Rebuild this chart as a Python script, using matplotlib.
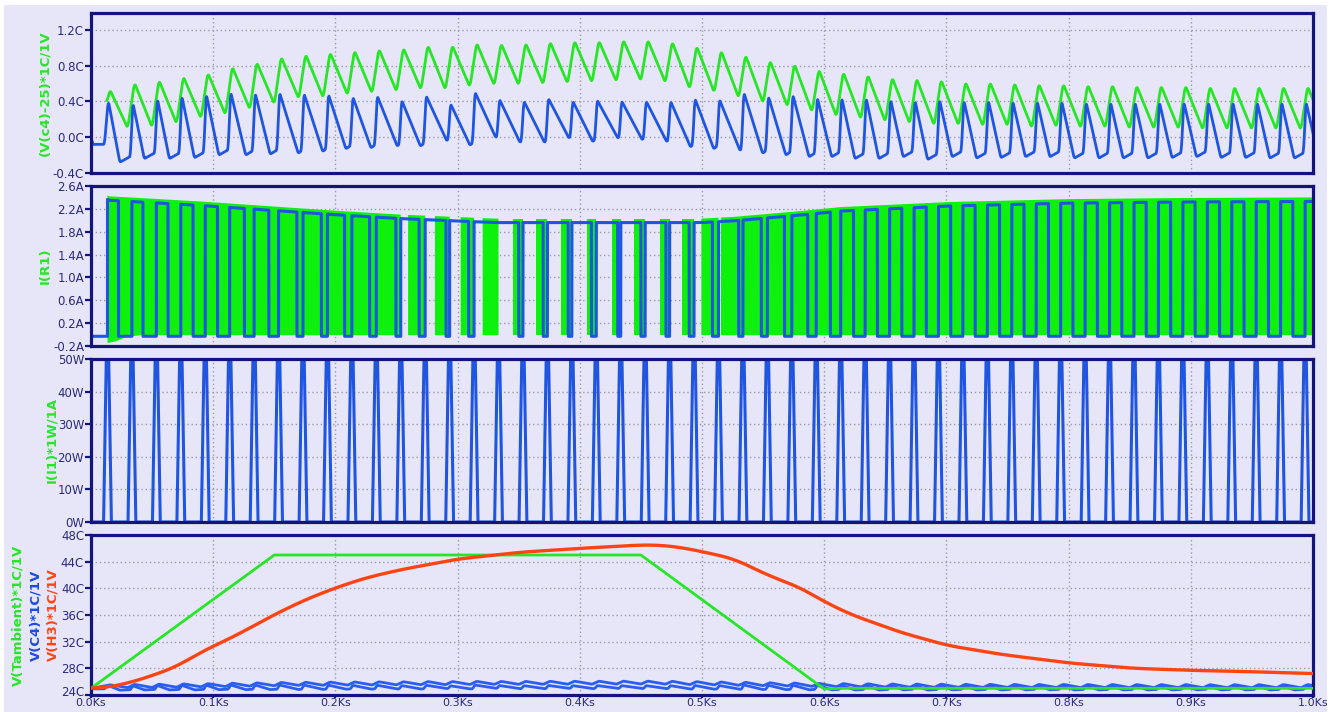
import numpy as np
import matplotlib.pyplot as plt
import matplotlib.transforms as mtransforms
from matplotlib.patches import Rectangle

# ---- values read off the waveform viewer ----
# heater pulse centres (s), one per 20 s control cycle
pulse_t = [13.5, 33.5, 53.5, 73.5, 93.5, 113.5, 133.5, 153.5, 173.5, 193.5,
           213.5, 233.5, 253.5, 273.5, 293.5, 313.5, 333.5, 353.5, 373.5, 393.5,
           413.5, 433.5, 453.5, 473.5, 493.5, 513.5, 533.5, 553.5, 573.5, 593.5,
           613.5, 633.5, 653.5, 673.5, 693.5, 713.5, 733.5, 753.5, 773.5, 793.5,
           813.5, 833.5, 853.5, 873.5, 893.5, 913.5, 933.5, 953.5, 973.5, 993.5]

# how long the blue drive stays high after each pulse (s)
on_time = [9, 9, 9.5, 10, 10,
           12, 12, 15, 15, 14, 14.5, 16, 15, 17, 15.5, 20, 16.5, 16.5, 17, 16,
           17.5, 16.5, 17, 16, 15, 16.5, 15, 14, 13, 11.5, 10.5,
           10, 10, 10, 10, 10, 10, 10, 10, 10, 10, 10, 10, 10, 10, 10, 10, 10, 10, 10]

# how long the green PWM runs before each pulse (s)
green_on = [0, 20, 20, 20, 20, 20, 20, 20, 20, 20, 20, 20, 20,
            14, 12, 11, 13, 8, 9, 9, 8, 7, 9, 8, 10, 14, 18,
            20, 20, 20, 20, 20, 20, 20, 20, 20, 20, 20, 20, 20, 20, 20, 20,
            20, 20, 20, 20, 20, 20, 20]

# pane 1: per-cycle peaks and troughs
blue_peak = [0.42, 0.40, 0.45, 0.48, 0.50, 0.52, 0.51, 0.51, 0.50, 0.49, 0.46, 0.47,
             0.42, 0.47, 0.38, 0.51, 0.43, 0.41, 0.44, 0.41, 0.42, 0.41, 0.41, 0.41,
             0.44, 0.43, 0.51, 0.47, 0.49, 0.46, 0.46, 0.46, 0.44,
             0.43, 0.44, 0.43, 0.43, 0.42, 0.42, 0.42, 0.41, 0.41, 0.41, 0.41, 0.41,
             0.41, 0.41, 0.41, 0.41, 0.41]
blue_trough = [-0.28, -0.24, -0.24, -0.23, -0.20, -0.20, -0.19, -0.18, -0.16, -0.13, -0.12,
               -0.10, -0.10, -0.04, -0.09, 0.00, -0.06, -0.06, -0.01, -0.05, -0.01, -0.03,
               -0.05, -0.11, -0.13, -0.15, -0.18, -0.20, -0.22, -0.22, -0.24, -0.24, -0.22,
               -0.25, -0.22, -0.235, -0.23, -0.22, -0.22, -0.235, -0.235, -0.235, -0.235,
               -0.23, -0.22, -0.23, -0.23, -0.235, -0.235, -0.23]
green_peak = [0.53, 0.61, 0.64, 0.68, 0.72, 0.79, 0.84, 0.90, 0.93, 0.95, 0.97, 0.99,
              1.00, 1.03, 1.03, 1.055, 1.05, 1.055, 1.07, 1.08, 1.08, 1.09, 1.09, 1.07,
              1.02, 0.97, 0.92, 0.86, 0.82, 0.76, 0.73, 0.70, 0.67,
              0.66, 0.645, 0.62, 0.62, 0.61, 0.60, 0.60, 0.59, 0.59, 0.58, 0.58, 0.58,
              0.57, 0.57, 0.57, 0.57, 0.57]
green_trough = [0.10, 0.11, 0.15, 0.21, 0.25, 0.31, 0.37, 0.43, 0.44, 0.47, 0.49,
                0.51, 0.53, 0.53, 0.56, 0.58, 0.58, 0.59, 0.60, 0.61, 0.62, 0.63,
                0.61, 0.54, 0.50, 0.44, 0.38, 0.34, 0.28, 0.23, 0.20, 0.17, 0.15,
                0.13, 0.13, 0.12, 0.12, 0.10, 0.11, 0.10, 0.10, 0.09, 0.09, 0.09,
                0.08, 0.08, 0.08, 0.08, 0.08, 0.08]

# pane 2: top of the I(R1) envelope
env_t = [0, 12, 15, 89, 198, 253, 330, 500, 526, 580, 613, 703, 799, 894, 1000]
env_v = [2.45, 2.45, 2.42, 2.33, 2.17, 2.10, 2.03, 2.03, 2.06, 2.16, 2.23, 2.32, 2.37, 2.39, 2.40]
floor_t = [0, 13, 20, 28, 40, 1000]
floor_v = [-0.02, -0.15, -0.12, -0.05, -0.01, -0.01]
blue_low = -0.03
blue_start = 2.4
pulse_level = 50

# pane 4
tamb_t = [0, 150, 450, 600, 615, 1000]
tamb_v = [25.0, 45.0, 45.0, 24.9, 25.0, 25.0]
h3_t = [0, 15, 30, 48, 70, 89, 110, 125, 150, 175, 200, 225, 253, 300, 350, 400, 449,
        463, 480, 500, 526, 553, 580, 599, 621, 662, 700, 744, 800, 853, 899, 948, 1000]
h3_v = [25.0, 25.2, 25.8, 26.8, 28.3, 30.4, 32.2, 33.6, 36.1, 38.3, 40.1, 41.6, 42.8,
        44.4, 45.4, 46.0, 46.5, 46.5, 46.2, 45.5, 44.4, 42.0, 40.1, 38.05, 36.1, 33.4,
        31.45, 30.1, 28.8, 28.0, 27.7, 27.5, 27.2]

x_ticks = [0, 100, 200, 300, 400, 500, 600, 700, 800, 900, 1000]
x_labels = ['0.0Ks', '0.1Ks', '0.2Ks', '0.3Ks', '0.4Ks', '0.5Ks', '0.6Ks', '0.7Ks',
            '0.8Ks', '0.9Ks', '1.0Ks']
p1_ticks = [-0.4, 0.0, 0.4, 0.8, 1.2]
p1_labels = ['-0.4C', '0.0C', '0.4C', '0.8C', '1.2C']
p2_ticks = [-0.2, 0.2, 0.6, 1.0, 1.4, 1.8, 2.2, 2.6]
p2_labels = ['-0.2A', '0.2A', '0.6A', '1.0A', '1.4A', '1.8A', '2.2A', '2.6A']
p3_ticks = [0, 10, 20, 30, 40, 50]
p3_labels = ['0W', '10W', '20W', '30W', '40W', '50W']
p4_ticks = [24, 28, 32, 36, 40, 44, 48]
p4_labels = ['24C', '28C', '32C', '36C', '40C', '44C', '48C']

GREEN = '#26e626'
GREEN_FILL = '#0ef00e'
BLUE = '#1f55e0'
BLUE4 = '#2a5ef0'
RED = '#ff4414'
NAVY = '#14147a'
TXT = '#2b2b7e'
BG = '#e6e6f8'

n = len(pulse_t)


def smooth(x, y, step, width):
    # resample onto a fine grid and round off the corners a little
    xs = np.arange(x[0], x[-1] + step / 2, step)
    ys = np.interp(xs, x, y)
    k = max(int(round(width / step)), 1)
    pad = np.pad(ys, (k // 2, k - 1 - k // 2), mode='edge')
    return xs, np.convolve(pad, np.ones(k) / k, mode='valid')


# ---- build the traces ----
# pane 1 blue: sharp rise to the peak, fall to the trough, slow creep up
bt = [0, 1.5, pulse_t[0] - 2.5]
bv = [0.0, -0.08, -0.08]
for k in range(n):
    tk = pulse_t[k]
    nxt = pulse_t[k + 1] if k < n - 1 else tk + 20
    fall = min(on_time[k] + 1, 17.5)
    bt += [tk + 0.5, tk + fall, nxt - 1.2]
    bv += [blue_peak[k], blue_trough[k], blue_trough[k] + 0.006 * (20 - min(on_time[k], 19))]
bt, bv = smooth(bt, bv, 0.1, 1.6)

# pane 1 green: rise over a few seconds, then a long decay
gt = [pulse_t[0] - 0.5]
gv = [0.40]
for k in range(n):
    tk = pulse_t[k]
    nxt = pulse_t[k + 1] if k < n - 1 else tk + 20
    gt += [tk + 2, nxt - 3.5]
    gv += [green_peak[k], green_trough[k]]
gt, gv = smooth(gt, gv, 0.1, 2.0)

# pane 2 on a fine time grid
tf = np.linspace(0, 1000, 40001)
top = np.interp(tf, env_t, env_v)
floor = np.interp(tf, floor_t, floor_v)
g_on = np.zeros(tf.shape, bool)
for k in range(1, n):
    g_on |= (tf >= pulse_t[k] - green_on[k]) & (tf <= pulse_t[k])
g_on |= tf >= pulse_t[-1]
b_on = np.zeros(tf.shape, bool)
for k in range(n):
    b_on |= (tf >= pulse_t[k]) & (tf < pulse_t[k] + on_time[k])
i_blue = np.where(b_on, top - 0.07, blue_low)
i_blue[tf < 0.3] = blue_start

# pane 3 pulses
pt = [0]
pv = [0]
for tk in pulse_t:
    pt += [tk - 3.2, tk - 1.0, tk + 1.0, tk + 3.2]
    pv += [0, pulse_level, pulse_level, 0]
pt.append(1000)
pv.append(0)

# pane 4 smooth curves
ht, hv = smooth(h3_t, h3_v, 1.0, 24)

# ---- figure ----
fig = plt.figure(figsize=(13.31, 7.12), dpi=100)
fig.patch.set_facecolor('white')
fig.patches.append(Rectangle((4 / 1331, 0), 1323 / 1331, 707 / 712,
                             transform=fig.transFigure, facecolor=BG, edgecolor='none', zorder=-10))

L, W = 91 / 1331, 1222 / 1331
pane_px = [(13, 173), (186, 346), (359, 522), (535, 695)]
axes = []
for top_px, bot_px in pane_px:
    ax = fig.add_axes([L, 1 - bot_px / 712, W, (bot_px - top_px) / 712])
    axes.append(ax)
ax1, ax2, ax3, ax4 = axes

for ax in axes:
    ax.set_facecolor(BG)
    ax.set_xlim(0, 1000)
    ax.set_xticks(x_ticks)
    ax.grid(True, color='#9a9aa8', linestyle=(0, (1, 2)), linewidth=1.0)
    ax.set_axisbelow(True)
    for s in ax.spines.values():
        s.set_color(NAVY)
        s.set_linewidth(2.3)
    ax.tick_params(axis='y', direction='out', length=4, width=1.6, color=NAVY,
                   labelcolor=TXT, labelsize=8.5, pad=1)
    ax.tick_params(axis='x', length=0, labelbottom=False)

ax4.tick_params(axis='x', direction='out', length=2.5, width=1.6, color=NAVY,
                labelcolor=TXT, labelsize=8, pad=0, labelbottom=True)
ax4.set_xticklabels(x_labels)

# pane 1
ax1.plot(gt, gv, color=GREEN, lw=2.0)
ax1.plot(bt, bv, color=BLUE, lw=2.0)
ax1.set_ylim(-0.4, 1.39)
ax1.set_yticks(p1_ticks)
ax1.set_yticklabels(p1_labels)

# pane 2
ax2.fill_between(tf, floor, top, where=g_on, color=GREEN_FILL, lw=0)
ax2.plot(tf, i_blue, color=BLUE, lw=2.2)
ax2.set_ylim(-0.2, 2.6)
ax2.set_yticks(p2_ticks)
ax2.set_yticklabels(p2_labels)

# pane 3
ax3.plot(pt, pv, color=BLUE, lw=2.2)
ax3.set_ylim(0, 50)
ax3.set_yticks(p3_ticks)
ax3.set_yticklabels(p3_labels)

# pane 4
ax4.plot(tamb_t, tamb_v, color=GREEN, lw=2.0, zorder=3)
ax4.plot(bt, 25 + bv, color=BLUE4, lw=2.0, zorder=2)
ax4.plot(np.r_[0, gt], 25 + np.r_[0.0, gv], color=BLUE4, lw=2.0, zorder=2)
ax4.plot(ht, hv, color=RED, lw=2.4, zorder=4)
ax4.set_ylim(24, 48)
ax4.set_yticks(p4_ticks)
ax4.set_yticklabels(p4_labels)

# lift the lowest temperature label a touch so it clears 0.0Ks
fig.canvas.draw()
low_lbl = ax4.get_yticklabels()[0]
low_lbl.set_transform(low_lbl.get_transform() +
                      mtransforms.ScaledTranslation(0, 4 / 100, fig.dpi_scale_trans))


# axis titles, LTspice style
def side_label(x_px, y_px, text, color):
    fig.text(x_px / 1331, 1 - y_px / 712, text, rotation=90, ha='center', va='center',
             color=color, fontsize=9.5, fontweight='bold')


side_label(45, 93, '(V(c4)-25)*1C/1V', GREEN)
side_label(45, 266, 'I(R1)', GREEN)
side_label(52, 440, 'I(I1)*1W/1A', GREEN)
side_label(18, 615, 'V(Tambient)*1C/1V', GREEN)
side_label(36, 615, 'V(C4)*1C/1V', '#1a4ae8')
side_label(53, 615, 'V(H3)*1C/1V', RED)

fig.savefig('out.png', dpi=100, facecolor=fig.get_facecolor())
